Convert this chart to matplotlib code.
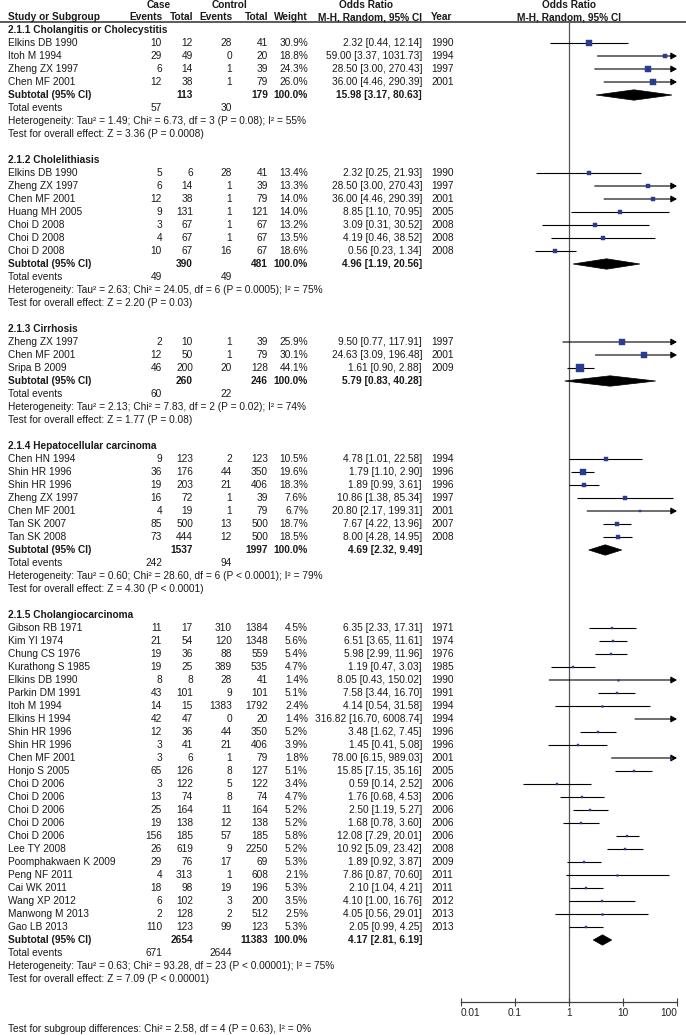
import matplotlib
matplotlib.use('Agg')
import matplotlib.pyplot as plt
from matplotlib.patches import Polygon
import numpy as np

plt.rcParams['font.family'] = ['Liberation Sans', 'DejaVu Sans']

# ---------------- data ----------------
group_titles = ['2.1.1 Cholangitis or Cholecystitis', '2.1.2 Cholelithiasis', '2.1.3 Cirrhosis',
                '2.1.4 Hepatocellular carcinoma', '2.1.5 Cholangiocarcinoma']
group_sizes = [4, 7, 3, 7, 24]

study_names = ['Elkins DB 1990', 'Itoh M 1994', 'Zheng ZX 1997', 'Chen MF 2001',
               'Elkins DB 1990', 'Zheng ZX 1997', 'Chen MF 2001', 'Huang MH 2005', 'Choi D 2008', 'Choi D 2008', 'Choi D 2008',
               'Zheng ZX 1997', 'Chen MF 2001', 'Sripa B 2009',
               'Chen HN 1994', 'Shin HR 1996', 'Shin HR 1996', 'Zheng ZX 1997', 'Chen MF 2001', 'Tan SK 2007', 'Tan SK 2008',
               'Gibson RB 1971', 'Kim YI 1974', 'Chung CS 1976', 'Kurathong S 1985', 'Elkins DB 1990', 'Parkin DM 1991',
               'Itoh M 1994', 'Elkins H 1994', 'Shin HR 1996', 'Shin HR 1996', 'Chen MF 2001', 'Honjo S 2005',
               'Choi D 2006', 'Choi D 2006', 'Choi D 2006', 'Choi D 2006', 'Choi D 2006', 'Lee TY 2008',
               'Poomphakwaen K 2009', 'Peng NF 2011', 'Cai WK 2011', 'Wang XP 2012', 'Manwong M 2013', 'Gao LB 2013']
case_events = [10, 29, 6, 12,
               5, 6, 12, 9, 3, 4, 10,
               2, 12, 46,
               9, 36, 19, 16, 4, 85, 73,
               11, 21, 19, 19, 8, 43, 14, 42, 12, 3, 3, 65, 3, 13, 25, 19, 156, 26, 29, 4, 18, 6, 2, 110]
case_total = [12, 49, 14, 38,
              6, 14, 38, 131, 67, 67, 67,
              10, 50, 200,
              123, 176, 203, 72, 19, 500, 444,
              17, 54, 36, 25, 8, 101, 15, 47, 36, 41, 6, 126, 122, 74, 164, 138, 185, 619, 76, 313, 98, 102, 128, 123]
ctrl_events = [28, 0, 1, 1,
               28, 1, 1, 1, 1, 1, 16,
               1, 1, 20,
               2, 44, 21, 1, 1, 13, 12,
               310, 120, 88, 389, 28, 9, 1383, 0, 44, 21, 1, 8, 5, 8, 11, 12, 57, 9, 17, 1, 19, 3, 2, 99]
ctrl_total = [41, 20, 39, 79,
              41, 39, 79, 121, 67, 67, 67,
              39, 79, 128,
              123, 350, 406, 39, 79, 500, 500,
              1384, 1348, 559, 535, 41, 101, 1792, 20, 350, 406, 79, 127, 122, 74, 164, 138, 185, 2250, 69, 608, 196, 200, 512, 123]
weights = [30.9, 18.8, 24.3, 26.0,
           13.4, 13.3, 14.0, 14.0, 13.2, 13.5, 18.6,
           25.9, 30.1, 44.1,
           10.5, 19.6, 18.3, 7.6, 6.7, 18.7, 18.5,
           4.5, 5.6, 5.4, 4.7, 1.4, 5.1, 2.4, 1.4, 5.2, 3.9, 1.8, 5.1, 3.4, 4.7, 5.2, 5.2, 5.8, 5.2, 5.3, 2.1, 5.3, 3.5, 2.5, 5.3]
or_est = [2.32, 59.00, 28.50, 36.00,
          2.32, 28.50, 36.00, 8.85, 3.09, 4.19, 0.56,
          9.50, 24.63, 1.61,
          4.78, 1.79, 1.89, 10.86, 20.80, 7.67, 8.00,
          6.35, 6.51, 5.98, 1.19, 8.05, 7.58, 4.14, 316.82, 3.48, 1.45, 78.00, 15.85,
          0.59, 1.76, 2.50, 1.68, 12.08, 10.92, 1.89, 7.86, 2.10, 4.10, 4.05, 2.05]
ci_lo = [0.44, 3.37, 3.00, 4.46,
         0.25, 3.00, 4.46, 1.10, 0.31, 0.46, 0.23,
         0.77, 3.09, 0.90,
         1.01, 1.10, 0.99, 1.38, 2.17, 4.22, 4.28,
         2.33, 3.65, 2.99, 0.47, 0.43, 3.44, 0.54, 16.70, 1.62, 0.41, 6.15, 7.15,
         0.14, 0.68, 1.19, 0.78, 7.29, 5.09, 0.92, 0.87, 1.04, 1.00, 0.56, 0.99]
ci_hi = [12.14, 1031.73, 270.43, 290.39,
         21.93, 270.43, 290.39, 70.95, 30.52, 38.52, 1.34,
         117.91, 196.48, 2.88,
         22.58, 2.90, 3.61, 85.34, 199.31, 13.96, 14.95,
         17.31, 11.61, 11.96, 3.03, 150.02, 16.70, 31.58, 6008.74, 7.45, 5.08, 989.03, 35.16,
         2.52, 4.53, 5.27, 3.60, 20.01, 23.42, 3.87, 70.60, 4.21, 16.76, 29.01, 4.25]
years = [1990, 1994, 1997, 2001,
         1990, 1997, 2001, 2005, 2008, 2008, 2008,
         1997, 2001, 2009,
         1994, 1996, 1996, 1997, 2001, 2007, 2008,
         1971, 1974, 1976, 1985, 1990, 1991, 1994, 1994, 1996, 1996, 2001, 2005,
         2006, 2006, 2006, 2006, 2006, 2008, 2009, 2011, 2011, 2012, 2013, 2013]

sub_case_total = [113, 390, 260, 1537, 2654]
sub_ctrl_total = [179, 481, 246, 1997, 11383]
sub_or = [15.98, 4.96, 5.79, 4.69, 4.17]
sub_lo = [3.17, 1.19, 0.83, 2.32, 2.81]
sub_hi = [80.63, 20.56, 40.28, 9.49, 6.19]
tot_case_events = [57, 49, 60, 242, 671]
tot_ctrl_events = [30, 49, 22, 94, 2644]
het_tau2 = ['1.49', '2.63', '2.13', '0.60', '0.63']
het_chi2 = ['6.73', '24.05', '7.83', '28.60', '93.28']
het_df = [3, 6, 2, 6, 23]
het_p = ['P = 0.08', 'P = 0.0005', 'P = 0.02', 'P < 0.0001', 'P < 0.00001']
het_i2 = [55, 75, 74, 79, 75]
z_vals = ['3.36', '2.20', '1.77', '4.30', '7.09']
z_p = ['P = 0.0008', 'P = 0.03', 'P = 0.08', 'P < 0.0001', 'P < 0.00001']
subgroup_diff = 'Test for subgroup differences: Chi\u00b2 = 2.58, df = 4 (P = 0.63), I\u00b2 = 0%'

axis_ticks = [0.01, 0.1, 1, 10, 100]
axis_ticklabels = ['0.01', '0.1', '1', '10', '100']

# ---------------- layout ----------------
W, H = 686, 1035
FS = 7.3
BLUE = '#2b3b8f'
Y0, DY = 30, 13
X_NAME = 8
X_CE, X_CT, X_KE, X_KT, X_W, X_OR, X_YR = 162, 193, 232, 268, 308, 422, 431
PLOT_L, PLOT_R, AXIS_Y, RULE_Y = 461, 677, 1002, 22

fig = plt.figure(figsize=(W / 100, H / 100), dpi=100)
ax_t = fig.add_axes([0, 0, 1, 1])
ax_t.set_xlim(0, W)
ax_t.set_ylim(H, 0)
ax_t.axis('off')

ax_f = fig.add_axes([PLOT_L / W, (H - AXIS_Y) / H, (PLOT_R - PLOT_L) / W, (AXIS_Y - RULE_Y) / H])
ax_f.set_xscale('log')
ax_f.set_xlim(axis_ticks[0], axis_ticks[-1])
ax_f.set_ylim((AXIS_Y - Y0) / DY, (RULE_Y - Y0) / DY)
ax_f.patch.set_alpha(0)
for s in ['top', 'left', 'right']:
    ax_f.spines[s].set_visible(False)
ax_f.spines['bottom'].set_color('#404040')
ax_f.spines['bottom'].set_linewidth(0.9)
ax_f.set_xticks(axis_ticks)
ax_f.set_xticklabels(axis_ticklabels)
ax_f.minorticks_off()
ax_f.xaxis.set_minor_locator(matplotlib.ticker.NullLocator())
ax_f.tick_params(axis='x', direction='inout', length=6, width=0.8, color='#404040',
                 labelsize=FS, pad=1.5, labelcolor='#222222')
ax_f.set_yticks([])
lbls = ax_f.get_xticklabels()
lbls[0].set_horizontalalignment('left')
lbls[-1].set_horizontalalignment('right')
ax_f.axvline(1, color='#555555', lw=0.9, zorder=1)


def row_y(r):
    return Y0 + DY * r


def txt(x, r, s, ha='left', bold=False, y=None):
    ax_t.text(x, row_y(r) if y is None else y, s, ha=ha, va='center', fontsize=FS,
              fontweight='bold' if bold else 'normal', color='#1a1a1a')


# headers
ax_t.text(159, 5, 'Case', ha='center', va='center', fontsize=FS, fontweight='bold', color='#1a1a1a')
ax_t.text(230, 5, 'Control', ha='center', va='center', fontsize=FS, fontweight='bold', color='#1a1a1a')
ax_t.text(366, 5, 'Odds Ratio', ha='center', va='center', fontsize=FS, fontweight='bold', color='#1a1a1a')
ax_t.text(569, 5, 'Odds Ratio', ha='center', va='center', fontsize=FS, fontweight='bold', color='#1a1a1a')
hy = 17
for x, s, ha in [(X_NAME, 'Study or Subgroup', 'left'), (X_CE, 'Events', 'right'), (X_CT, 'Total', 'right'),
                 (X_KE, 'Events', 'right'), (X_KT, 'Total', 'right'), (X_W, 'Weight', 'right'),
                 (X_OR, 'M-H, Random, 95% CI', 'right'), (X_YR, 'Year', 'left'), (569, 'M-H, Random, 95% CI', 'center')]:
    ax_t.text(x, hy, s, ha=ha, va='center', fontsize=FS, fontweight='bold', color='#1a1a1a')
ax_t.plot([0, W], [RULE_Y, RULE_Y], color='#404040', lw=1.2)

row = 0
idx = 0
for g, title in enumerate(group_titles):
    txt(X_NAME, row, title, bold=True)
    row += 1
    for k in range(group_sizes[g]):
        i = idx + k
        txt(X_NAME, row, study_names[i])
        txt(X_CE, row, str(case_events[i]), ha='right')
        txt(X_CT, row, str(case_total[i]), ha='right')
        txt(X_KE, row, str(ctrl_events[i]), ha='right')
        txt(X_KT, row, str(ctrl_total[i]), ha='right')
        txt(X_W, row, f'{weights[i]:.1f}%', ha='right')
        txt(X_OR, row, f'{or_est[i]:.2f} [{ci_lo[i]:.2f}, {ci_hi[i]:.2f}]', ha='right')
        txt(X_YR, row, str(years[i]))
        # forest marks
        if ci_hi[i] > axis_ticks[-1]:
            ax_f.annotate('', xy=(axis_ticks[-1], row), xytext=(ci_lo[i], row),
                          arrowprops=dict(arrowstyle='-|>,head_length=0.45,head_width=0.25',
                                          mutation_scale=8, color='black', lw=0.8,
                                          shrinkA=0, shrinkB=0), annotation_clip=False)
        else:
            ax_f.plot([ci_lo[i], ci_hi[i]], [row, row], color='black', lw=0.8, solid_capstyle='butt', zorder=2)
        side_px = max(1.6, 1.15 * np.sqrt(weights[i]))
        ax_f.plot([or_est[i]], [row], marker='s', ms=side_px * 0.72, color=BLUE, mec=BLUE, mew=0.3,
                  linestyle='none', zorder=3, clip_on=True)
        row += 1
    idx += group_sizes[g]
    # subtotal
    txt(X_NAME, row, 'Subtotal (95% CI)', bold=True)
    txt(X_CT, row, str(sub_case_total[g]), ha='right', bold=True)
    txt(X_KT, row, str(sub_ctrl_total[g]), ha='right', bold=True)
    txt(X_W, row, '100.0%', ha='right', bold=True)
    txt(X_OR, row, f'{sub_or[g]:.2f} [{sub_lo[g]:.2f}, {sub_hi[g]:.2f}]', ha='right', bold=True)
    h = 5.2 / DY
    ax_f.add_patch(Polygon([(sub_lo[g], row), (sub_or[g], row - h), (sub_hi[g], row), (sub_or[g], row + h)],
                           closed=True, facecolor='black', edgecolor='black', lw=0.5, zorder=3))
    row += 1
    txt(X_NAME, row, 'Total events')
    txt(X_CE, row, str(tot_case_events[g]), ha='right')
    txt(X_KE, row, str(tot_ctrl_events[g]), ha='right')
    row += 1
    txt(X_NAME, row, f'Heterogeneity: Tau\u00b2 = {het_tau2[g]}; Chi\u00b2 = {het_chi2[g]}, df = {het_df[g]} '
                     f'({het_p[g]}); I\u00b2 = {het_i2[g]}%')
    row += 1
    txt(X_NAME, row, f'Test for overall effect: Z = {z_vals[g]} ({z_p[g]})')
    row += 2

ax_t.text(X_NAME, 1029, subgroup_diff, ha='left', va='center', fontsize=FS, color='#1a1a1a')

fig.savefig('out.png', dpi=100)
